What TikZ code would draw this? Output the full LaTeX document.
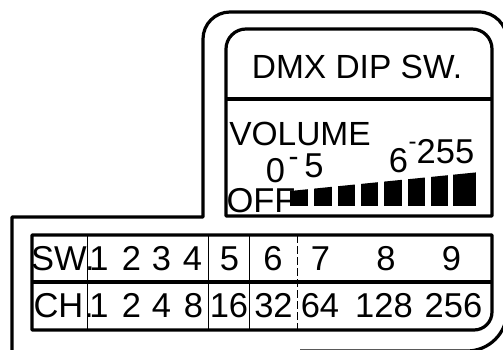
\documentclass[tikz,border=0pt]{standalone}
\usepackage{fontspec}
\setmainfont{Liberation Sans}
\begin{document}
\begin{tikzpicture}[x=1pt,y=1pt,
  heavy/.style={line width=3.2pt, line join=round},
  thindiv/.style={line width=1pt},
  dashdiv/.style={line width=1pt, dash pattern=on 8pt off 3pt},
  lbl/.style={inner sep=0pt, anchor=base, font=\fontsize{34.5}{34.5}\selectfont},
  hdr/.style={inner sep=0pt, anchor=base, font=\fontsize{33.5}{33.5}\selectfont},
  dashtxt/.style={inner sep=0pt, anchor=base, font=\fontsize{30}{30}\selectfont},
  bar/.style={fill=black, draw=none},
]
\useasboundingbox (0,0) rectangle (503,349);
\clip (0,0) rectangle (503,349);

% outer housing outline
\draw[heavy] (12,-11) -- (12,132) -- (203,132) -- (203,310)
  arc[start angle=180, end angle=90, radius=27] -- (479,337)
  arc[start angle=90, end angle=0, radius=28] -- (507,38)
  arc[start angle=0, end angle=-90, radius=40] -- (300,-2);

% DIP switch window
\draw[heavy] (226,133) -- (226,300)
  arc[start angle=180, end angle=90, radius=20] -- (472,320)
  arc[start angle=90, end angle=0, radius=20] -- (492,133) -- cycle;
\draw[heavy] (226,250) -- (492,250);

\node[hdr] (title) at (357,271) {DMX DIP SW.};
\node[hdr] (volume) at (300,204) {VOLUME};
\node[lbl] (lo0) at (275.5,167) {0};
\node[dashtxt] (lodash) at (293.5,183) {-};
\node[lbl] (lo5) at (314,172) {5};
\node[lbl] (hi6) at (398.5,177) {6};
\node[dashtxt, font=\fontsize{24}{24}\selectfont] (hidash) at (412.5,199.5) {-};
\node[lbl] (hi255) at (445.5,186) {255};
\node[lbl] (off) at (261,137) {OFF};

% volume bars
\begin{scope}
  \clip (285,140) -- (285,157.5) -- (480,177) -- (480,140) -- cycle;
  \foreach \l/\r in {290/308, 314/332, 338/355, 361/378, 384/402, 408/425, 431/448, 453/476}
    \fill[bar] (\l,143) rectangle (\r,185);
\end{scope}

% table
\draw[heavy] (32,114) -- (492,114) -- (492,37)
  arc[start angle=0, end angle=-90, radius=18] -- (32,19) -- cycle;
\draw[heavy] (32,67) -- (492,67);
\draw[thindiv] (87,114) -- (87,19);
\draw[thindiv] (208,114) -- (208,19);
\draw[thindiv] (249,114) -- (249,19);
\draw[dashdiv] (297,114) -- (297,19);

% row SW
\node[lbl] (sw) at (59,79) {SW};
\node[lbl] (swdot) at (90,79) {.};
\node[lbl] (s1) at (99,79) {1};
\node[lbl] (s2) at (131.5,79) {2};
\node[lbl] (s3) at (161.5,79) {3};
\node[lbl] (s4) at (192.5,79) {4};
\node[lbl] (s5) at (229.5,79) {5};
\node[lbl] (s6) at (273,79) {6};
\node[lbl] (s7) at (320.5,79) {7};
\node[lbl] (s8) at (386,79) {8};
\node[lbl] (s9) at (451.5,79) {9};

% row CH
\node[lbl] (ch) at (58.5,32) {CH};
\node[lbl] (chdot) at (89,32) {.};
\node[lbl] (c1) at (99,32) {1};
\node[lbl] (c2) at (131.5,32) {2};
\node[lbl] (c4) at (161.5,32) {4};
\node[lbl] (c8) at (193.5,32) {8};
\node[lbl] (c16) at (229,32) {16};
\node[lbl] (c32) at (273.5,32) {32};
\node[lbl] (c64) at (320,32) {64};
\node[lbl] (c128) at (384,32) {128};
\node[lbl] (c256) at (453.5,32) {256};
\end{tikzpicture}
\end{document}
